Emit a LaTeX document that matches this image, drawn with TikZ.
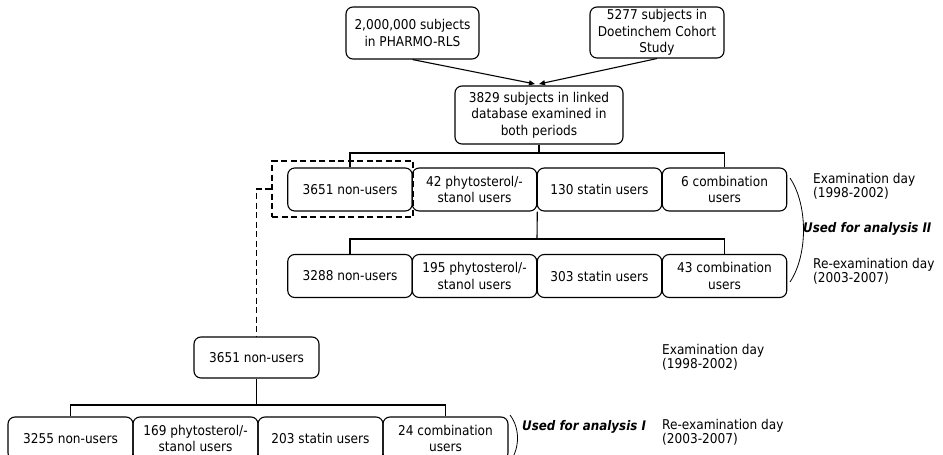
\documentclass[tikz,border=0pt]{standalone}
\usepackage{fontspec}
\setmainfont{DejaVu Sans Condensed}
\usetikzlibrary{arrows.meta}
\begin{document}
\begin{tikzpicture}[x=1pt,y=-1pt,
  box/.style={draw, line width=1.1pt, rounded corners=7pt, align=center, inner sep=0pt, font=\fontsize{13.5}{16.5}\selectfont},
  rowbox/.style={box, minimum width=124.5pt, minimum height=43pt},
  lab/.style={anchor=west, align=left, inner sep=0pt, font=\fontsize{13.5}{14}\selectfont},
  emlab/.style={anchor=west, inner sep=0pt, font=\fontsize{13.2}{14}\selectfont\bfseries\itshape},
  conn/.style={line width=1.1pt},
  dashconn/.style={line width=1.1pt, dash pattern=on 6pt off 3.5pt},
  arr/.style={conn, -{Triangle[length=6pt,width=5pt]}},
  brace/.style={line width=0.8pt}]
\clip (0,0) rectangle (943,455);
% top
\node[box, minimum width=133pt, minimum height=52pt] (pharmo) at (412.5,33) {2,000,000 subjects\\in PHARMO-RLS};
\node[box, minimum width=134pt, minimum height=51pt] (doet) at (657,32.5) {5277 subjects in\\Doetinchem Cohort\\Study};
\node[box, minimum width=168pt, minimum height=58pt] (linked) at (539,115) {3829 subjects in linked\\database examined in\\both periods};
\coordinate (tipA) at (535,84);
\coordinate (tipB) at (539,84);
\draw[arr] (pharmo.south) -- (tipA);
\draw[arr] (doet.south) -- (tipB);
% row 1
\node[rowbox] (r1a) at (350,189.5) {3651 non-users};
\node[rowbox] (r1b) at (474.5,189.5) {42 phytosterol/-\\stanol users};
\node[rowbox] (r1c) at (599.5,189.5) {130 statin users};
\node[rowbox] (r1d) at (724.5,189.5) {6 combination\\users};
% row 2
\node[rowbox] (r2a) at (350,276) {3288 non-users};
\node[rowbox] (r2b) at (474.5,276) {195 phytosterol/-\\stanol users};
\node[rowbox] (r2c) at (599.5,276) {303 statin users};
\node[rowbox] (r2d) at (724.5,276) {43 combination\\users};
% dashed selection
\node[draw, dashconn, minimum width=141pt, minimum height=56pt, inner sep=0pt] (dbox) at (342.5,189) {};
% lower
\node[box, minimum width=125pt, minimum height=41pt] (nu3) at (256.5,357.5) {3651 non-users};
\node[rowbox, minimum width=125pt] (r3a) at (70.5,438.5) {3255 non-users};
\node[rowbox, minimum width=125pt] (r3b) at (195.5,438.5) {169 phytosterol/-\\stanol users};
\node[rowbox, minimum width=125pt] (r3c) at (320.5,438.5) {203 statin users};
\node[rowbox, minimum width=125pt] (r3d) at (445.5,438.5) {24 combination\\users};
% connectors
\coordinate (j1) at (539,153);
\draw[conn] (linked.south) -- (j1);
\draw[conn] (r1a.north) |- (j1) -| (r1d.north);
\coordinate (j2) at (537,239);
\draw[conn] (r1b.south east) -- (j2);
\draw[conn] (r2a.north) |- (j2) -| (r2d.north);
\draw[dashconn] (dbox.west) -| (nu3.north);
\coordinate (j3) at (256.5,405);
\draw[conn] (nu3.south) -- (j3);
\draw[conn] (r3a.north) |- (j3) -| (r3d.north);
% braces
\draw[brace] (790,178) .. controls (808,205) and (808,255) .. (790,282);
\draw[brace] (510,415) .. controls (520,428) and (520,448) .. (510,462);
% labels
\node[lab] (ex1) at (813,186) {Examination day\\(1998-2002)};
\node[emlab] (an2) at (803,229) {Used for analysis II};
\node[lab] (re1) at (813,271) {Re-examination day\\(2003-2007)};
\node[lab] (ex2) at (662,357) {Examination day\\(1998-2002)};
\node[lab] (re2) at (662,432) {Re-examination day\\(2003-2007)};
\node[emlab] (an1) at (522,427) {Used for analysis I};
\end{tikzpicture}
\end{document}
